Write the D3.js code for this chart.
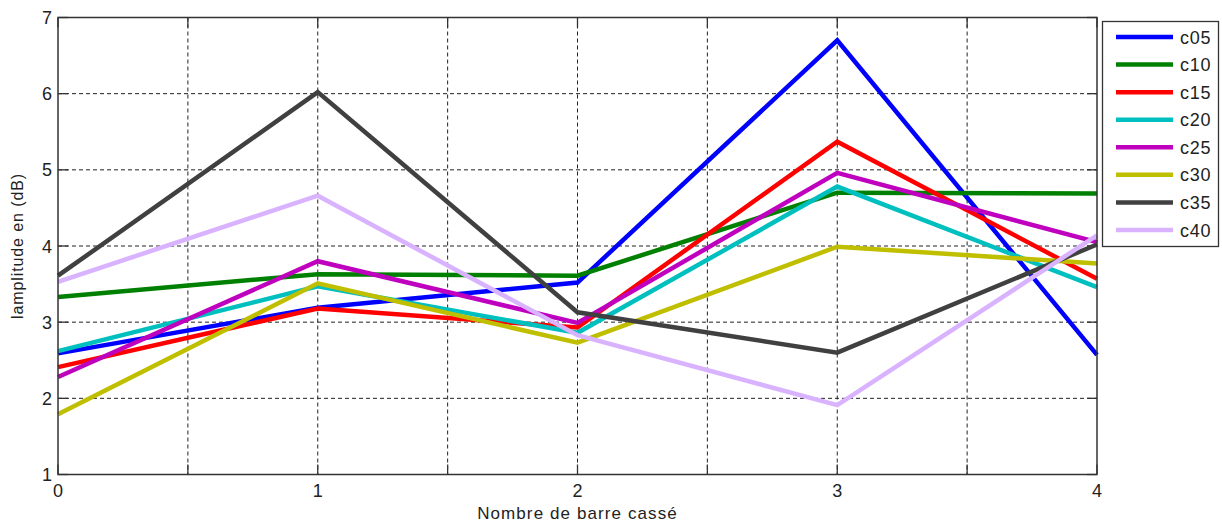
<!DOCTYPE html>
<html><head><meta charset="utf-8">
<script src="https://cdn.jsdelivr.net/npm/d3@7/dist/d3.min.js"></script>
<style>body{margin:0;background:#fff}svg{display:block}</style>
</head><body><svg id="c" width="1222" height="524"></svg>
<script>
const xValues = [0, 1, 2, 3, 4];
const xTicks = [0, 0.5, 1, 1.5, 2, 2.5, 3, 3.5, 4];
const xTickLabels = ["0", "", "1", "", "2", "", "3", "", "4"];
const yTicks = [1, 2, 3, 4, 5, 6, 7];
const seriesNames = ["c05", "c10", "c15", "c20", "c25", "c30", "c35", "c40"];
const seriesColors = ["#0000ff", "#008000", "#ff0000", "#00bfbf", "#bf00bf", "#bfbf00", "#404040", "#d9b3ff"];
const c05 = [2.59, 3.19, 3.52, 6.70, 2.57];
const c10 = [3.33, 3.63, 3.61, 4.70, 4.69];
const c15 = [2.41, 3.18, 2.93, 5.37, 3.57];
const c20 = [2.62, 3.47, 2.86, 4.78, 3.46];
const c25 = [2.28, 3.80, 2.99, 4.96, 4.05];
const c30 = [1.79, 3.51, 2.73, 3.99, 3.77];
const c35 = [3.61, 6.02, 3.13, 2.60, 4.02];
const c40 = [3.53, 4.66, 2.83, 1.91, 4.14];
const seriesValues = [c05, c10, c15, c20, c25, c30, c35, c40];
const xLabel = "Nombre de barre cassé";
const yLabel = "lamplitude en (dB)";

const svg = d3.select("#c");
const L = 58, R = 1097, T = 17.5, B = 474.5;
const x = d3.scaleLinear().domain([0, 4]).range([L, R]);
const y = d3.scaleLinear().domain([1, 7]).range([B, T]);
const font = "'Liberation Sans', Arial, sans-serif";

// grid
const g = svg.append("g");
g.selectAll(".vg").data(xTicks.slice(1, -1)).join("line")
  .attr("x1", d => x(d)).attr("x2", d => x(d)).attr("y1", T).attr("y2", B)
  .attr("stroke", "#222").attr("stroke-width", 1).attr("stroke-dasharray", "4,3");
g.selectAll(".hg").data(yTicks.slice(1, -1)).join("line")
  .attr("y1", d => y(d)).attr("y2", d => y(d)).attr("x1", L).attr("x2", R)
  .attr("stroke", "#222").attr("stroke-width", 1).attr("stroke-dasharray", "4,3");

// ticks inward (all four sides)
const tl = 10;
const tk = svg.append("g").attr("stroke", "#333").attr("stroke-width", 1.3);
xTicks.forEach(d => {
  tk.append("line").attr("x1", x(d)).attr("x2", x(d)).attr("y1", B).attr("y2", B - tl);
  tk.append("line").attr("x1", x(d)).attr("x2", x(d)).attr("y1", T).attr("y2", T + tl);
});
yTicks.forEach(d => {
  tk.append("line").attr("y1", y(d)).attr("y2", y(d)).attr("x1", L).attr("x2", L + tl);
  tk.append("line").attr("y1", y(d)).attr("y2", y(d)).attr("x1", R).attr("x2", R - tl);
});

// lines
const line = d3.line().x((d, i) => x(xValues[i])).y(d => y(d));
svg.append("g").selectAll("path").data(seriesValues).join("path")
  .attr("d", line).attr("fill", "none")
  .attr("stroke", (d, i) => seriesColors[i]).attr("stroke-width", 4.5)
  .attr("stroke-linejoin", "miter");

// frame
svg.append("rect").attr("x", L).attr("y", T).attr("width", R - L).attr("height", B - T)
  .attr("fill", "none").attr("stroke", "#333").attr("stroke-width", 1.5);

// tick labels
svg.append("g").selectAll("text").data(xTicks).join("text")
  .attr("x", d => x(d)).attr("y", 497).attr("text-anchor", "middle")
  .attr("font-family", font).attr("font-size", 18).attr("fill", "#222")
  .text((d, i) => xTickLabels[i]);
svg.append("g").selectAll("text").data(yTicks).join("text")
  .attr("x", 52).attr("y", d => y(d) + 6.5).attr("text-anchor", "end")
  .attr("font-family", font).attr("font-size", 18).attr("fill", "#222")
  .text(d => d);

// axis labels
svg.append("text").attr("x", (L + R) / 2).attr("y", 519).attr("text-anchor", "middle")
  .attr("font-family", font).attr("font-size", 17).attr("letter-spacing", 1.1)
  .attr("fill", "#222").text(xLabel);
svg.append("text").attr("transform", `translate(23,${(T + B) / 2}) rotate(-90)`)
  .attr("text-anchor", "middle").attr("font-family", font).attr("font-size", 16)
  .attr("letter-spacing", 0.9).attr("fill", "#222").text(yLabel);

// legend
const lg = svg.append("g");
lg.append("rect").attr("x", 1102.5).attr("y", 21.5).attr("width", 116).attr("height", 225)
  .attr("fill", "#fff").attr("stroke", "#333").attr("stroke-width", 1.3);
const ly = d3.scaleLinear().domain([0, 7]).range([37, 230]);
seriesNames.forEach((n, i) => {
  lg.append("line").attr("x1", 1116).attr("x2", 1173).attr("y1", ly(i)).attr("y2", ly(i))
    .attr("stroke", seriesColors[i]).attr("stroke-width", 4.5);
  lg.append("text").attr("x", 1180).attr("y", ly(i) + 6.5).attr("font-family", font)
    .attr("font-size", 18).attr("letter-spacing", 0.8).attr("fill", "#222").text(n);
});
</script></body></html>
